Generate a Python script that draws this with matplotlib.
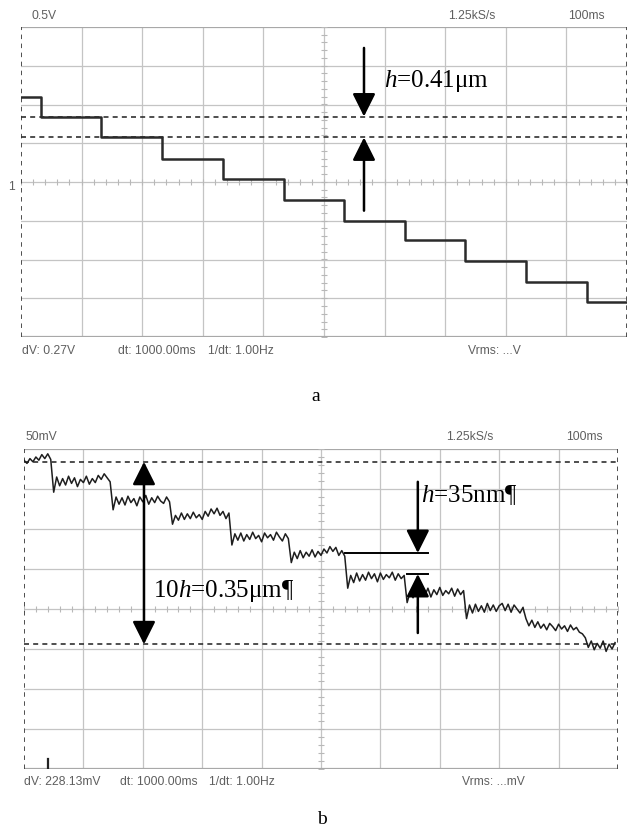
import numpy as np
import matplotlib.pyplot as plt

plt.rcParams['mathtext.fontset'] = 'custom'
plt.rcParams['mathtext.it'] = 'Liberation Serif:italic'
plt.rcParams['mathtext.rm'] = 'Liberation Serif'

W, H = 630, 836

# --- trace a: 0.5 V/div, 100 ms/div, clean staircase ---
levels_a = [1.10, 0.84, 0.58, 0.30, 0.04, -0.23, -0.50, -0.75, -1.02, -1.29, -1.55]  # V
edges_a = [33, 132, 233, 333, 434, 533, 634, 733, 833, 934]  # ms
dv_a = 0.27          # V between the two cursors
cursor_a = 0.845     # upper cursor, V

# --- trace b: 50 mV/div, 100 ms/div, noisy staircase sampled every 5 ms ---
dt_b = 5.0
trace_b = [
    186, 182, 188, 184, 190, 186, 193, 188, 194, 187,
    146, 165, 154, 163, 155, 166, 157, 164, 153, 162, 158, 166, 156, 163, 158, 167, 162, 169, 164, 159,
    124, 140, 131, 139, 130, 141, 133, 138, 129, 140, 134, 142, 131, 139, 133, 141, 135, 132, 140, 134,
    106, 117, 111, 120, 112, 119, 113, 121, 114, 118, 112, 122, 116, 125, 119, 126, 117, 122, 113, 120,
    80, 94, 86, 95, 85, 93, 87, 96, 88, 92, 84, 95, 89, 93, 86, 96, 90, 85, 94, 88,
    58, 71, 63, 73, 64, 71, 66, 74, 65, 72, 67, 75, 70, 78, 72, 77, 67, 73, 66,
    26, 42, 33, 45, 35, 43, 36, 46, 38, 44, 34, 45, 37, 43, 39, 46, 36, 44, 38, 42,
    8, 21, 14, 27, 16, 25, 17, 26, 15, 24, 18, 27, 17, 23, 19, 26, 16, 25, 18, 23,
    -12, 5, -5, 6, -3, 4, -4, 7, -2, 5, -3, 4, 7, -2, 6, -4, 5, 0, -5, 2,
    -12, -21, -14, -23, -16, -24, -19, -26, -18, -22, -27, -19, -25, -21, -28, -20, -26, -23, -29, -31,
    -36, -48, -40, -51, -43, -49, -40, -53, -44, -50, -42,
]  # mV
dv_b = 228.13        # mV between the two cursors
cursor_b = 184.0     # upper cursor, mV
step_top_b = 70.0    # single-step markers, mV
step_bot_b = 43.75

SCOPE = dict(family=['Liberation Sans', 'DejaVu Sans'], color='#5f5f5f', fontsize=8.7)
SERIF = dict(family=['Liberation Serif', 'DejaVu Serif'], color='black', fontsize=18)


def fx(x):
    return x / W


def fy(y):
    return 1 - y / H


def screen(box, vdiv):
    """Scope screen: 10 x 8 divisions, gray grid, ticked centre lines."""
    x0, y0, x1, y1 = box
    ax = fig.add_axes([fx(x0), fy(y1), (x1 - x0) / W, (y1 - y0) / H])
    ax.set_xlim(0, 1000)
    ax.set_ylim(-4 * vdiv, 4 * vdiv)
    ax.axis('off')
    grid = '#c4c4c4'
    for k in range(1, 10):
        ax.axvline(k * 100, color=grid, lw=0.9, zorder=1)
    for k in range(-3, 4):
        ax.axhline(k * vdiv, color=grid, lw=0.9, zorder=1)
    ax.axhline(4 * vdiv, color='#a8a8a8', lw=1.6, zorder=1)
    ax.axhline(-4 * vdiv, color='#a8a8a8', lw=1.6, zorder=1)
    xt = np.arange(0, 1001, 20)
    ax.plot(xt, np.zeros_like(xt), ls='none', marker='|', ms=4, color='#b8b8b8', mew=0.8, zorder=1)
    yt = np.arange(-4, 4.01, 0.2) * vdiv
    ax.plot(np.full_like(yt, 500), yt, ls='none', marker='_', ms=4, color='#b8b8b8', mew=0.8, zorder=1)
    # time cursors sit on the screen edges (dt = 1000 ms)
    for xc in (0, 1000):
        ax.axvline(xc, color='#404040', lw=1.3, ls=(0, (2.5, 2.5)), zorder=2)
    return ax


fig = plt.figure(figsize=(W / 100, H / 100), dpi=100)

# ---------------- panel a ----------------
ax_a = screen((21, 27, 627, 337), 0.5)
xa = [0] + edges_a + [1000]
ya = levels_a + [levels_a[-1]]
ax_a.plot(xa, ya, drawstyle='steps-post', color='#2b2b2b', lw=1.8, zorder=3)
for yc in (cursor_a, cursor_a - dv_a):
    ax_a.axhline(yc, color='#303030', lw=1.2, ls=(0, (3, 2.5)), zorder=2)

arrow = dict(arrowstyle='-|>,head_length=0.5,head_width=0.25', color='black', lw=1.8,
             mutation_scale=28, shrinkA=0, shrinkB=0)
ax_a.annotate('', xy=(566, cursor_a), xytext=(566, 1.73), arrowprops=arrow, zorder=4)
ax_a.annotate('', xy=(566, cursor_a - dv_a), xytext=(566, -0.37), arrowprops=arrow, zorder=4)
ax_a.text(599, 1.23, r'$h$=0.41μm', va='baseline', ha='left', **SERIF)

fig.text(fx(32), fy(16), '0.5V', va='center', ha='left', **SCOPE)
fig.text(fx(448), fy(16), '1.25kS/s', va='center', ha='left', **SCOPE)
fig.text(fx(568), fy(16), '100ms', va='center', ha='left', **SCOPE)
fig.text(fx(8), fy(187), '1', va='center', ha='left', **SCOPE)
fig.text(fx(22), fy(351), 'dV: 0.27V', va='center', ha='left', **SCOPE)
fig.text(fx(118), fy(351), 'dt: 1000.00ms', va='center', ha='left', **SCOPE)
fig.text(fx(208), fy(351), '1/dt: 1.00Hz', va='center', ha='left', **SCOPE)
fig.text(fx(468), fy(351), 'Vrms: ...V', va='center', ha='left', **SCOPE)
fig.text(fx(316), fy(397), 'a', va='center', ha='center', family=['Liberation Serif'], fontsize=14)

# ---------------- panel b ----------------
ax_b = screen((24, 449, 618, 769), 50)
tb = np.arange(len(trace_b)) * dt_b
ax_b.plot(tb, trace_b, color='#1e1e1e', lw=1.1, zorder=3)
for yc in (cursor_b, cursor_b - dv_b):
    ax_b.axhline(yc, color='#303030', lw=1.2, ls=(0, (3, 2.5)), zorder=2)

arrow2 = dict(arrowstyle='<|-|>,head_length=0.5,head_width=0.25', color='black', lw=1.8,
              mutation_scale=28, shrinkA=0, shrinkB=0)
ax_b.annotate('', xy=(202, cursor_b - dv_b), xytext=(202, cursor_b), arrowprops=arrow2, zorder=4)
ax_b.text(217, 15, r'10$h$=0.35μm¶', va='baseline', ha='left', **SERIF)

ax_b.plot([540, 680], [step_top_b, step_top_b], color='black', lw=1.4, zorder=4)
ax_b.plot([645, 680], [step_bot_b, step_bot_b], color='black', lw=1.4, zorder=4)
ax_b.annotate('', xy=(663, step_top_b), xytext=(663, 159), arrowprops=arrow, zorder=4)
ax_b.annotate('', xy=(663, step_bot_b), xytext=(663, -30), arrowprops=arrow, zorder=4)
ax_b.text(668, 134, r'$h$=35nm¶', va='baseline', ha='left', **SERIF)
ax_b.plot([40, 40], [-187, -199], color='#222222', lw=1.6, zorder=4)

fig.text(fx(26), fy(437), '50mV', va='center', ha='left', **SCOPE)
fig.text(fx(446), fy(437), '1.25kS/s', va='center', ha='left', **SCOPE)
fig.text(fx(566), fy(437), '100ms', va='center', ha='left', **SCOPE)
fig.text(fx(24), fy(782), 'dV: 228.13mV', va='center', ha='left', **SCOPE)
fig.text(fx(120), fy(782), 'dt: 1000.00ms', va='center', ha='left', **SCOPE)
fig.text(fx(209), fy(782), '1/dt: 1.00Hz', va='center', ha='left', **SCOPE)
fig.text(fx(462), fy(782), 'Vrms: ...mV', va='center', ha='left', **SCOPE)
fig.text(fx(322), fy(820), 'b', va='center', ha='center', family=['Liberation Serif'], fontsize=14)

fig.savefig('out.png', dpi=100)
